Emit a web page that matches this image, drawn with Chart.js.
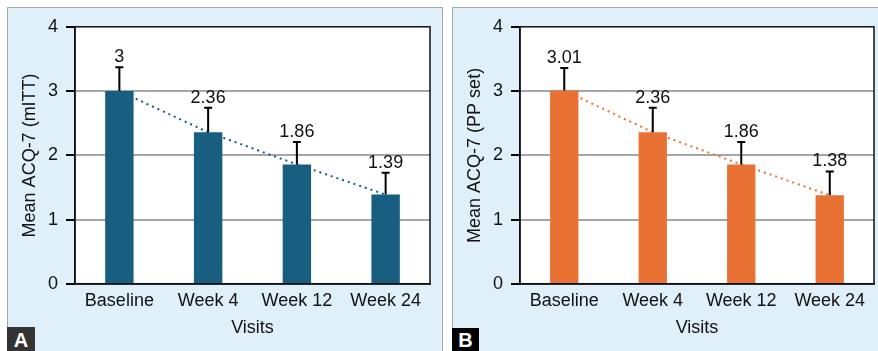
<!DOCTYPE html>
<html>
<head>
<meta charset="utf-8">
<script src="https://cdn.jsdelivr.net/npm/chart.js@4/dist/chart.umd.min.js"></script>
<style>
  body { margin: 0; background: #fff; width: 878px; height: 351px; overflow: hidden; position: relative; font-family: 'Liberation Sans', Arial, sans-serif; }
  .panel { position: absolute; top: 7px; background: #dff0fb; border: 1px solid #a9a9a9; box-sizing: border-box; }
  #panel-a { left: 7px; width: 436px; height: 352px; }
  #panel-b { left: 452px; width: 430px; height: 352px; }
  .panel canvas { position: absolute; top: 0; left: 0; }
  .tag { position: absolute; color: #fff; font: bold 20px 'Liberation Sans', Arial, sans-serif; text-align: center; }
  #tag-a { left: 7px; top: 327px; width: 28px; height: 24px; line-height: 26px; background: #333; }
  #tag-b { left: 452px; top: 328px; width: 27px; height: 23px; line-height: 25px; background: #000; }
</style>
</head>
<body>
<div class="panel" id="panel-a"><canvas id="acq-mitt-chart" width="434" height="343"></canvas></div>
<div class="panel" id="panel-b"><canvas id="acq-pp-chart" width="425" height="343"></canvas></div>
<div class="tag" id="tag-a">A</div>
<div class="tag" id="tag-b">B</div>
<script>
const visits = ['Baseline', 'Week 4', 'Week 12', 'Week 24'];
const mittMeans = [3, 2.36, 1.86, 1.39];
const mittErrors = [0.37, 0.38, 0.35, 0.34];
const ppMeans = [3.01, 2.36, 1.86, 1.38];
const ppErrors = [0.35, 0.38, 0.35, 0.37];
const yMin = 0;
const yMax = 4;
const yStep = 1;

const FONT = "'Liberation Sans', Arial, sans-serif";
const FSIZE = 18;

// error bars (upper only) + value labels + frame round the plot area
const errorBarPlugin = {
  id: 'errorBars',
  beforeDraw(chart) {
    const { ctx, chartArea } = chart;
    ctx.save();
    ctx.fillStyle = '#fff';
    ctx.fillRect(chartArea.left, chartArea.top, chartArea.right - chartArea.left, chartArea.bottom - chartArea.top);
    ctx.restore();
  },
  afterDatasetsDraw(chart, args, opts) {
    const { ctx, chartArea } = chart;
    const x = chart.scales.x;
    const y = chart.scales.y;
    ctx.save();
    ctx.strokeStyle = '#000';
    ctx.lineWidth = 2;
    opts.means.forEach((m, i) => {
      const px = x.getPixelForValue(i);
      const base = y.getPixelForValue(m);
      const top = y.getPixelForValue(m + opts.errors[i]);
      ctx.beginPath();
      ctx.moveTo(px, base);
      ctx.lineTo(px, top);
      ctx.moveTo(px - 4, top);
      ctx.lineTo(px + 4, top);
      ctx.stroke();
      ctx.fillStyle = '#111';
      ctx.font = FSIZE + 'px ' + FONT;
      ctx.textAlign = 'center';
      ctx.textBaseline = 'alphabetic';
      ctx.fillText(String(m), px, top - 5);
    });
    ctx.lineWidth = 1.5;
    ctx.strokeStyle = '#111';
    ctx.strokeRect(chartArea.left, chartArea.top, chartArea.right - chartArea.left, chartArea.bottom - chartArea.top);
    ctx.restore();
  },
};

const acqChart = (canvasId, means, errors, color, yTitle, rightPad) => {
  const ctx = document.getElementById(canvasId).getContext('2d');

  const config = {
    type: 'bar',
    data: {
      labels: visits,
      datasets: [
        {
          label: yTitle,
          data: means,
          backgroundColor: color,
          borderWidth: 0,
          barPercentage: 0.32,
          categoryPercentage: 1,
          order: 0,
        },
        {
          type: 'line',
          label: 'trend',
          data: means,
          borderColor: color,
          borderWidth: 2,
          borderDash: [2, 4],
          pointRadius: 0,
          fill: false,
          tension: 0,
          order: 1,
        },
      ],
    },
    options: {
      responsive: false,
      animation: false,
      layout: { padding: { top: 17, right: rightPad, left: 0, bottom: 0 } },
      plugins: {
        legend: { display: false },
        tooltip: { enabled: false },
        errorBars: { means: means, errors: errors },
      },
      scales: {
        x: {
          afterFit: (scale) => { scale.height = 67; },
          ticks: {
            font: { size: FSIZE, family: FONT },
            color: '#111',
            padding: 6,
            maxRotation: 0,
          },
          grid: { display: false, drawTicks: false },
          border: { color: '#111', width: 1.5 },
          title: {
            display: true,
            text: 'Visits',
            font: { size: FSIZE, family: FONT },
            color: '#111',
            padding: { top: 0, bottom: 12 },
          },
        },
        y: {
          min: yMin,
          max: yMax,
          afterFit: (scale) => { scale.width = 67; },
          ticks: {
            stepSize: yStep,
            font: { size: FSIZE, family: FONT },
            color: '#111',
            padding: 8,
          },
          grid: {
            color: (c) => (c.tick && c.tick.value > yMin && c.tick.value < yMax ? '#a6a6a6' : 'transparent'),
            lineWidth: 2,
            tickColor: '#000',
            tickLength: 9,
            tickWidth: 2,
          },
          border: { color: '#111', width: 1.5 },
          title: {
            display: true,
            text: yTitle,
            font: { size: FSIZE, family: FONT },
            color: '#111',
            padding: { top: 11, bottom: 0 },
          },
        },
      },
    },
    plugins: [errorBarPlugin],
  };

  new Chart(ctx, config);
};

acqChart('acq-mitt-chart', mittMeans, mittErrors, '#175e80', 'Mean ACQ-7 (mITT)', 12);
acqChart('acq-pp-chart', ppMeans, ppErrors, '#e97133', 'Mean ACQ-7 (PP set)', 4);
</script>
</body>
</html>
